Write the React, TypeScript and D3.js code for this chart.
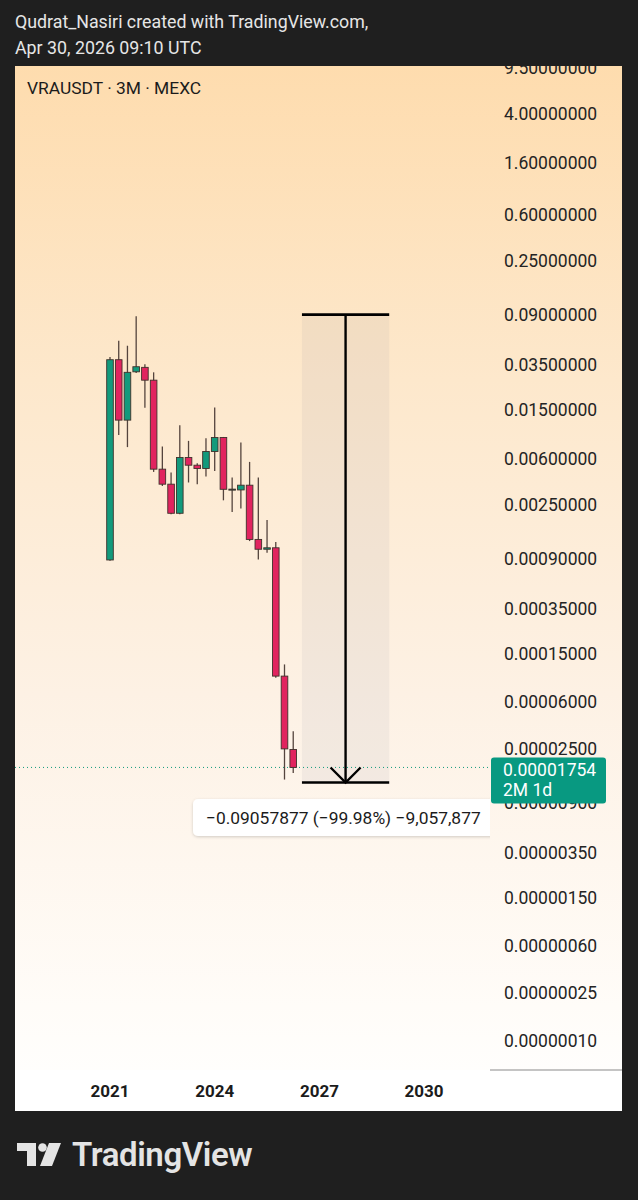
import React from "react";
import * as d3 from "d3";

// ---- data ----
const periods = [
  "2021Q1","2021Q2","2021Q3","2021Q4","2022Q1","2022Q2","2022Q3","2022Q4",
  "2023Q1","2023Q2","2023Q3","2023Q4","2024Q1","2024Q2","2024Q3","2024Q4",
  "2025Q1","2025Q2","2025Q3","2025Q4","2026Q1","2026Q2",
];
const opens = [0.000882,0.0387,0.01237,0.0308,0.0335,0.0263,0.0049,0.00369,0.00213,0.00611,0.00528,0.00496,0.00684,0.00891,0.00335,0.00331,0.00362,0.0013,0.00108,0.00111,0.0000984,0.0000246];
const highs = [0.0407,0.0554,0.0504,0.0878,0.0356,0.0305,0.00752,0.0046,0.01125,0.00836,0.00548,0.0088,0.0157,0.009,0.00418,0.00811,0.00562,0.00418,0.00188,0.00124,0.0001227,0.0000348];
const lows = [0.00087,0.00932,0.00743,0.0301,0.0156,0.00465,0.00357,0.00209,0.00209,0.00381,0.00369,0.00426,0.00474,0.00272,0.00218,0.00233,0.00126,0.00089,0.00101,0.0000954,0.00001395,0.0000158];
const closes = [0.0387,0.01237,0.0305,0.0339,0.0263,0.0049,0.00369,0.00213,0.00611,0.00528,0.00496,0.00684,0.00891,0.00335,0.00336,0.00362,0.0013,0.00108,0.00111,0.0000984,0.0000249,0.00001754];

const priceTicks = [9.5,4,1.6,0.6,0.25,0.09,0.035,0.015,0.006,0.0025,0.0009,0.00035,0.00015,0.00006,0.000025,0.000009,0.0000035,0.0000015,0.0000006,0.00000025,0.0000001];
const yearTickIdx = [0, 12, 24, 36];
const yearTickLabels = ["2021", "2024", "2027", "2030"];

const lastPrice = 0.00001754;
const lastPriceLabel = "0.00001754";
const countdownLabel = "2M 1d";

const measureStartIdx = 22;
const measureEndIdx = 32;
const measureTop = 0.0906;
const measureBottom = 0.0000132;
const measureText = "\u22120.09057877 (\u221299.98%) \u22129,057,877";

const W = 638, H = 1200;
const panelL = 15, panelR = 622, panelT = 66, panelB = 1111;
const plotR = 490, plotB = 1070;

const UP = "#129a7c";
const DOWN = "#e1245f";
const EDGE = "#3f302b";
const WICK = "#54443d";

export default function App() {
  const y = d3.scaleLog().domain([9.92, 5.79e-8]).range([panelT, plotB]);
  const x = d3.scaleLinear().domain([0, 12]).range([110, 214.7]);
  const bw = 6.6;
  const font = "Roboto, 'Noto Sans', sans-serif";

  const mx0 = x(measureStartIdx), mx1 = x(measureEndIdx), mxc = x((measureStartIdx + measureEndIdx) / 2);
  const myT = y(measureTop), myB = y(measureBottom);
  const ly = y(lastPrice);

  return (
    <svg width={W} height={H} style={{ position: "absolute", left: 0, top: 0, background: "#1f1f1f" }} fontFamily={font}>
      <defs>
        <linearGradient id="bg" x1="0" y1="0" x2="0" y2="1">
          <stop offset="0" stopColor="#fedcae" />
          <stop offset="0.3" stopColor="#fde8cc" />
          <stop offset="0.6" stopColor="#fdf1e4" />
          <stop offset="0.9" stopColor="#fffcf8" />
          <stop offset="1" stopColor="#ffffff" />
        </linearGradient>
        <clipPath id="plot"><rect x={panelL} y={panelT} width={plotR - panelL} height={plotB - panelT} /></clipPath>
        <clipPath id="panel"><rect x={panelL} y={panelT} width={panelR - panelL} height={panelB - panelT} /></clipPath>
        <filter id="sh" x="-10%" y="-30%" width="120%" height="160%">
          <feDropShadow dx="0" dy="1" stdDeviation="1.5" floodColor="#000" floodOpacity="0.18" />
        </filter>
      </defs>
      <rect x={0} y={0} width={W} height={H} fill="#1f1f1f" />
      <text x={15} y={28} fontSize={17.8} fill="#e6e6e6">Qudrat_Nasiri created with TradingView.com,</text>
      <text x={15} y={54} fontSize={17.8} fill="#e6e6e6">Apr 30, 2026 09:10 UTC</text>

      <rect x={panelL} y={panelT} width={panelR - panelL} height={panelB - panelT} fill="url(#bg)" />

      <g clipPath="url(#plot)">
        {/* measure tool */}
        <rect x={mx0} y={myT} width={mx1 - mx0} height={myB - myT} fill="rgba(120,120,140,0.08)" />
        {/* last price line */}
        <line x1={panelL} x2={plotR} y1={ly} y2={ly} stroke={UP} strokeWidth={1} strokeDasharray="1 3" />
        {/* candles */}
        {periods.map((p, i) => {
          const o = opens[i], c = closes[i], h = highs[i], l = lows[i];
          const cx = x(i);
          const top = y(Math.max(o, c)), bot = y(Math.min(o, c));
          const col = c >= o ? UP : DOWN;
          return (
            <g key={p}>
              <line x1={cx} x2={cx} y1={y(h)} y2={y(l)} stroke={WICK} strokeWidth={1.3} />
              <rect x={cx - bw / 2} y={top} width={bw} height={Math.max(1, bot - top)} fill={col} stroke={EDGE} strokeWidth={0.9} />
            </g>
          );
        })}
        <line x1={mx0} x2={mx1} y1={myT} y2={myT} stroke="#000" strokeWidth={2.6} />
        <line x1={mx0} x2={mx1} y1={myB} y2={myB} stroke="#000" strokeWidth={2.6} />
        <line x1={mxc} x2={mxc} y1={myT} y2={myB} stroke="#000" strokeWidth={2.4} />
        <path d={`M${mxc - 15},${myB - 15} L${mxc},${myB} L${mxc + 15},${myB - 15}`} fill="none" stroke="#000" strokeWidth={2.4} />
        {/* measure label */}
        <rect x={193} y={799} width={310} height={37} rx={5} fill="#ffffff" filter="url(#sh)" />
        <text x={206} y={824} fontSize={17.4} fill="#1b1b1b">{measureText}</text>
      </g>

      <text x={27} y={94} fontSize={17.4} fill="#1b1b1b">VRAUSDT · 3M · MEXC</text>

      {/* price axis */}
      <g clipPath="url(#panel)">
        {priceTicks.map((t) => (
          <text key={t} x={504} y={y(t)} dy="0.35em" fontSize={17.5} fill="#242424">
            {t.toFixed(8)}
          </text>
        ))}
        <rect x={491} y={ly - 10} width={115} height={46} rx={3} fill="#089981" />
        <text x={503} y={ly + 9} fontSize={17.5} fill="#ffffff">{lastPriceLabel}</text>
        <text x={503} y={ly + 29} fontSize={17.5} fill="#ffffff">{countdownLabel}</text>
      </g>

      {/* time axis */}
      <rect x={panelL} y={plotB} width={panelR - panelL} height={panelB - plotB} fill="#ffffff" />
      <line x1={plotR} x2={panelR} y1={plotB} y2={plotB} stroke="#8a8a8a" strokeWidth={1} />
      {yearTickIdx.map((t, i) => (
        <text key={t} x={x(t)} y={1091} dy="0.35em" textAnchor="middle" fontSize={17} fontWeight={700} fill="#1b1b1b">
          {yearTickLabels[i]}
        </text>
      ))}

      {/* TradingView logo */}
      <g fill="#e4e4e4">
        <path d="M17,1143 H36 V1166 H27 V1151 H17 Z" />
        <circle cx={42.5} cy={1147.5} r={4.3} />
        <path d="M49,1143 H61 L52,1166 H40 Z" />
      </g>
      <text x={72} y={1166} fontSize={33} fontWeight={600} fill="#e4e4e4" letterSpacing={-0.4}>TradingView</text>
    </svg>
  );
}
